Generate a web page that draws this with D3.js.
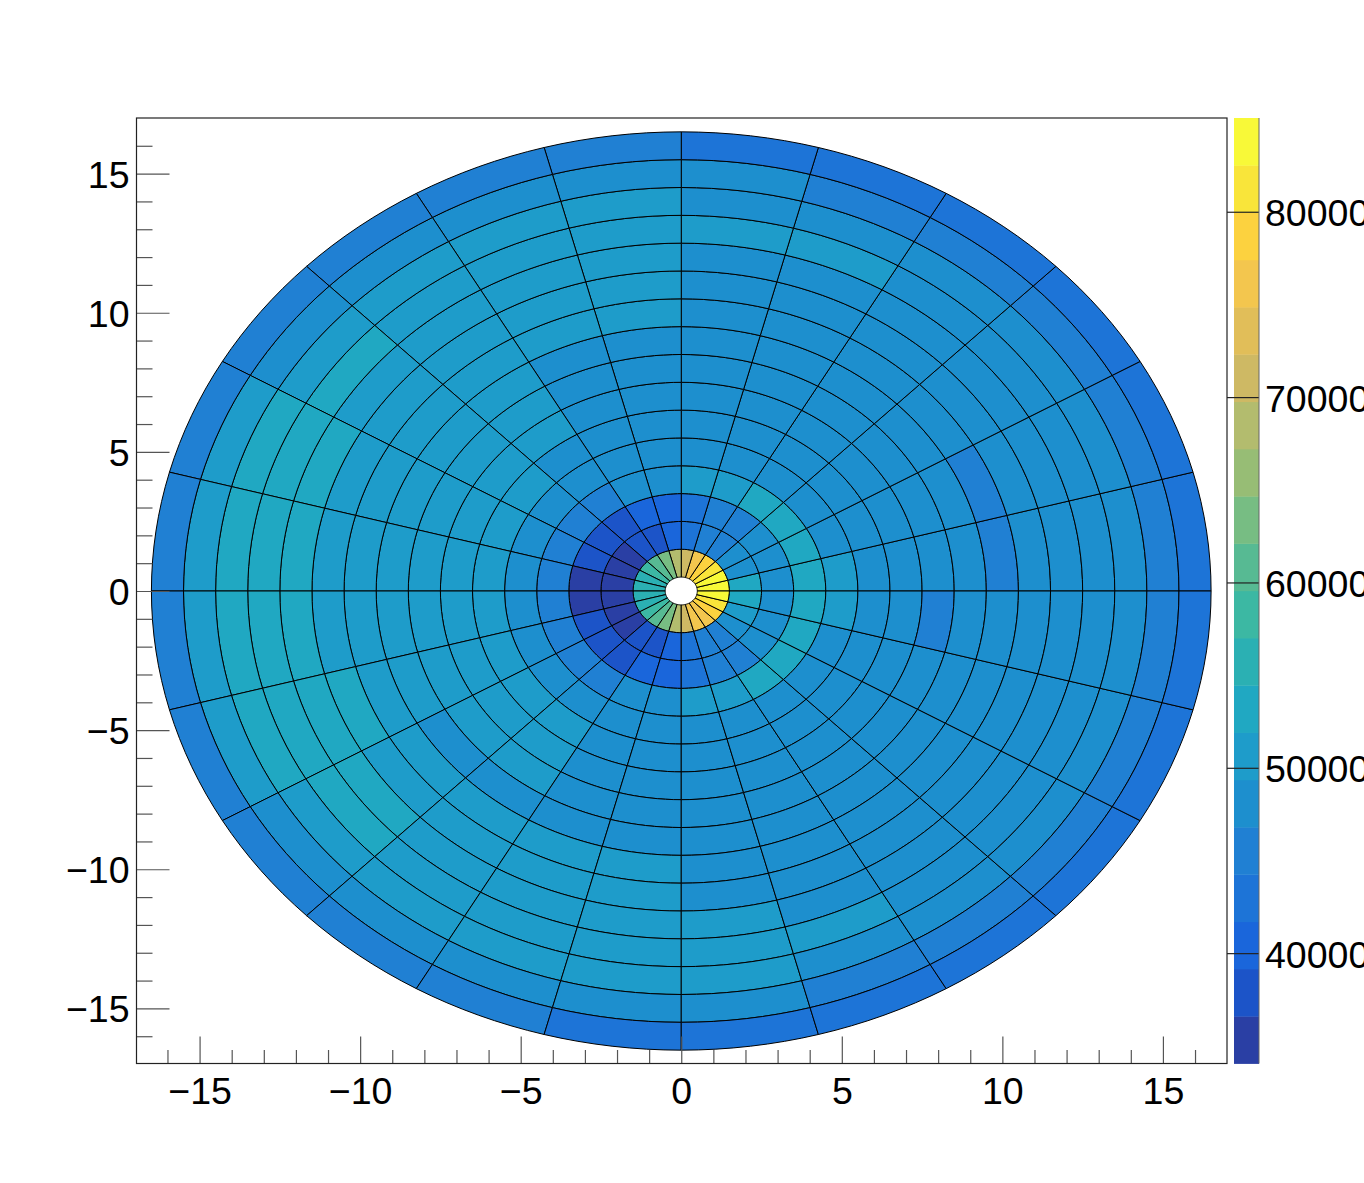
<!DOCTYPE html>
<html><head><meta charset="utf-8">
<script src="https://cdnjs.cloudflare.com/ajax/libs/d3/7.8.5/d3.min.js"></script>
<style>html,body{margin:0;padding:0;background:#fff;overflow:hidden}svg{display:block}
text{font-family:"Liberation Sans",Arial,sans-serif;font-size:37.5px;fill:#000}</style></head><body>
<script>
// Values per radial ring (r = i+0.5 .. i+1.5), 24 sectors of 15 degrees counter-clockwise from +x
const ring00=[83700,83700,81100,78600,76000,71000,68400,63300,60800,58200,55700,55700,55700,55700,58200,60800,63300,68400,71000,76000,76000,78600,81100,83700];
const ring01=[53100,48000,48000,45500,45500,43000,40400,37900,37900,35300,35300,35300,35300,35300,35300,37900,37900,40400,43000,45500,45500,48000,50600,53100];
const ring02=[48000,48000,48000,45500,45500,43000,40400,40400,37900,37900,37900,35300,35300,37900,37900,37900,40400,40400,43000,45500,45500,48000,48000,48000];
const ring03=[53100,53100,53100,53100,50600,50600,48000,48000,45500,45500,45500,45500,45500,45500,45500,45500,48000,48000,50600,50600,53100,53100,53100,53100];
const ring04=[50600,48000,48000,48000,48000,48000,48000,48000,48000,48000,48000,48000,48000,48000,48000,48000,48000,48000,48000,48000,48000,48000,48000,50600];
const ring05=[48000,48000,48000,48000,48000,48000,48000,48000,48000,50600,50600,50600,50600,50600,50600,50600,48000,48000,48000,48000,48000,48000,48000,48000];
const ring06=[48000,48000,48000,48000,48000,48000,48000,48000,50600,50600,50600,50600,50600,50600,50600,50600,48000,48000,48000,48000,48000,48000,48000,48000];
const ring07=[48000,48000,48000,48000,48000,48000,48000,48000,50600,50600,50600,50600,50600,50600,50600,50600,48000,48000,48000,48000,48000,48000,48000,45500];
const ring08=[48000,48000,48000,48000,48000,48000,48000,48000,50600,50600,50600,50600,50600,50600,48000,48000,48000,48000,48000,48000,48000,48000,48000,48000];
const ring09=[45500,45500,48000,48000,48000,48000,50600,50600,50600,50600,50600,50600,50600,50600,50600,50600,50600,50600,48000,48000,48000,48000,48000,48000];
const ring10=[48000,48000,48000,48000,48000,48000,50600,50600,50600,50600,50600,50600,50600,53100,50600,50600,50600,50600,48000,48000,48000,48000,48000,48000];
const ring11=[48000,48000,48000,48000,48000,48000,50600,50600,50600,50600,53100,53100,53100,53100,53100,50600,50600,50600,50600,48000,48000,48000,48000,48000];
const ring12=[48000,48000,48000,48000,50600,50600,50600,50600,50600,53100,53100,53100,53100,53100,53100,50600,50600,50600,50600,50600,48000,48000,48000,48000];
const ring13=[48000,48000,48000,48000,48000,48000,50600,50600,50600,50600,53100,53100,53100,53100,50600,50600,50600,50600,50600,48000,48000,48000,48000,48000];
const ring14=[45500,45500,45500,45500,45500,48000,48000,48000,48000,48000,50600,50600,50600,50600,48000,48000,48000,48000,48000,45500,45500,45500,45500,45500];
const ring15=[43000,43000,43000,43000,43000,43000,45500,45500,45500,45500,45500,45500,45500,45500,45500,45500,45500,43000,43000,43000,43000,43000,43000,43000];
const rings=[ring00,ring01,ring02,ring03,ring04,ring05,ring06,ring07,ring08,ring09,ring10,ring11,ring12,ring13,ring14,ring15];
const innerRadius=0.5, ringWidth=1, sectorDeg=15;
const palette=["#2A3FA4","#1C54C8","#1A66DB","#1D74D7","#2080D3","#1D8FCE","#1E9CCA","#20A8C2","#2BB0B3","#3CB8A3","#57BA93","#77BD83","#97BD75","#B3BC6E","#CEB964","#E1BE59","#F3C64E","#FCD23F","#F9E53A","#F8F938"];
const zMin=34046, zMax=85058;
const xMajor=[-15,-10,-5,0,5,10,15], yMajor=xMajor;
const minors=[-16,-14,-13,-12,-11,-9,-8,-7,-6,-4,-3,-2,-1,1,2,3,4,6,7,8,9,11,12,13,14,16];
const zTicks=[40000,50000,60000,70000,80000];

const W=1364,H=1183,L=136.5,R=1227,T=118,B=1063.5;
const svg=d3.select("body").append("svg").attr("width",W).attr("height",H);
const x=d3.scaleLinear().domain([-16.98,16.98]).range([L-0.5,R-0.5]);
const y=d3.scaleLinear().domain([-16.98,16.98]).range([B,T+0.5]);
const z=d3.scaleLinear().domain([zMin,zMax]).range([B,T]);
const color=d3.scaleQuantize().domain([zMin,zMax]).range(palette);

function cellPath(i,s){
  const r0=innerRadius+i*ringWidth,r1=r0+ringWidth,a0=s*sectorDeg,a1=a0+sectorDeg,pts=[];
  const pt=(r,a)=>[x(r*Math.cos(a*Math.PI/180)),y(r*Math.sin(a*Math.PI/180))];
  for(const a of d3.range(a0,a1+0.01,sectorDeg/8))pts.push(pt(r1,a));
  for(const a of d3.range(a1,a0-0.01,-sectorDeg/8))pts.push(pt(r0,a));
  return d3.line()(pts)+"Z";
}
const cells=rings.flatMap((vals,i)=>vals.map((v,s)=>({i,s,v})));
svg.append("g").selectAll("path").data(cells).join("path")
  .attr("d",d=>cellPath(d.i,d.s)).attr("fill",d=>color(d.v))
  .attr("stroke","#000").attr("stroke-width",1).attr("stroke-linejoin","round");

// colour bar
const step=(zMax-zMin)/palette.length;
svg.append("g").selectAll("rect").data(palette).join("rect")
  .attr("x",1234).attr("width",25)
  .attr("y",(c,i)=>z(zMin+(i+1)*step)).attr("height",(c,i)=>z(zMin+i*step)-z(zMin+(i+1)*step)+0.4)
  .attr("fill",c=>c);

const axisColor="#222", minorColor="#555";
function style(g,col,w){g.select(".domain").remove();g.selectAll("line").attr("stroke",col).attr("stroke-width",w||1.2);}
const fmt=d3.format("d");
svg.append("g").attr("transform",`translate(0,${B})`)
  .call(d3.axisBottom(x).tickValues(minors).tickSize(-13.5).tickFormat("")).call(g=>style(g,minorColor));
svg.append("g").attr("transform",`translate(0,${B})`)
  .call(d3.axisBottom(x).tickValues(xMajor).tickSize(-27).tickPadding(14).tickFormat(fmt)).call(g=>style(g,minorColor))
  .call(g=>g.selectAll("text").attr("dy",0).attr("y",40));
svg.append("g").attr("transform",`translate(${L},0)`)
  .call(d3.axisLeft(y).tickValues(minors).tickSize(-16).tickFormat("")).call(g=>style(g,minorColor));
svg.append("g").attr("transform",`translate(${L},0)`)
  .call(d3.axisLeft(y).tickValues(yMajor).tickSize(-33).tickPadding(7).tickFormat(fmt)).call(g=>style(g,minorColor))
  .call(g=>g.selectAll("text").attr("dy",13.5));
svg.append("rect").attr("x",L).attr("y",T).attr("width",R-L).attr("height",B-T)
  .attr("fill","none").attr("stroke",axisColor).attr("stroke-width",1.2);
svg.append("g").attr("transform","translate(1259,0)")
  .call(d3.axisRight(z).tickValues(zTicks).tickSize(-32).tickPadding(6).tickFormat(fmt)).call(g=>style(g,"#222"))
  .call(g=>g.selectAll("text").attr("dy",14));
svg.append("line").attr("x1",1259).attr("x2",1259).attr("y1",T).attr("y2",B).attr("stroke","#666").attr("stroke-width",1);
</script></body></html>
